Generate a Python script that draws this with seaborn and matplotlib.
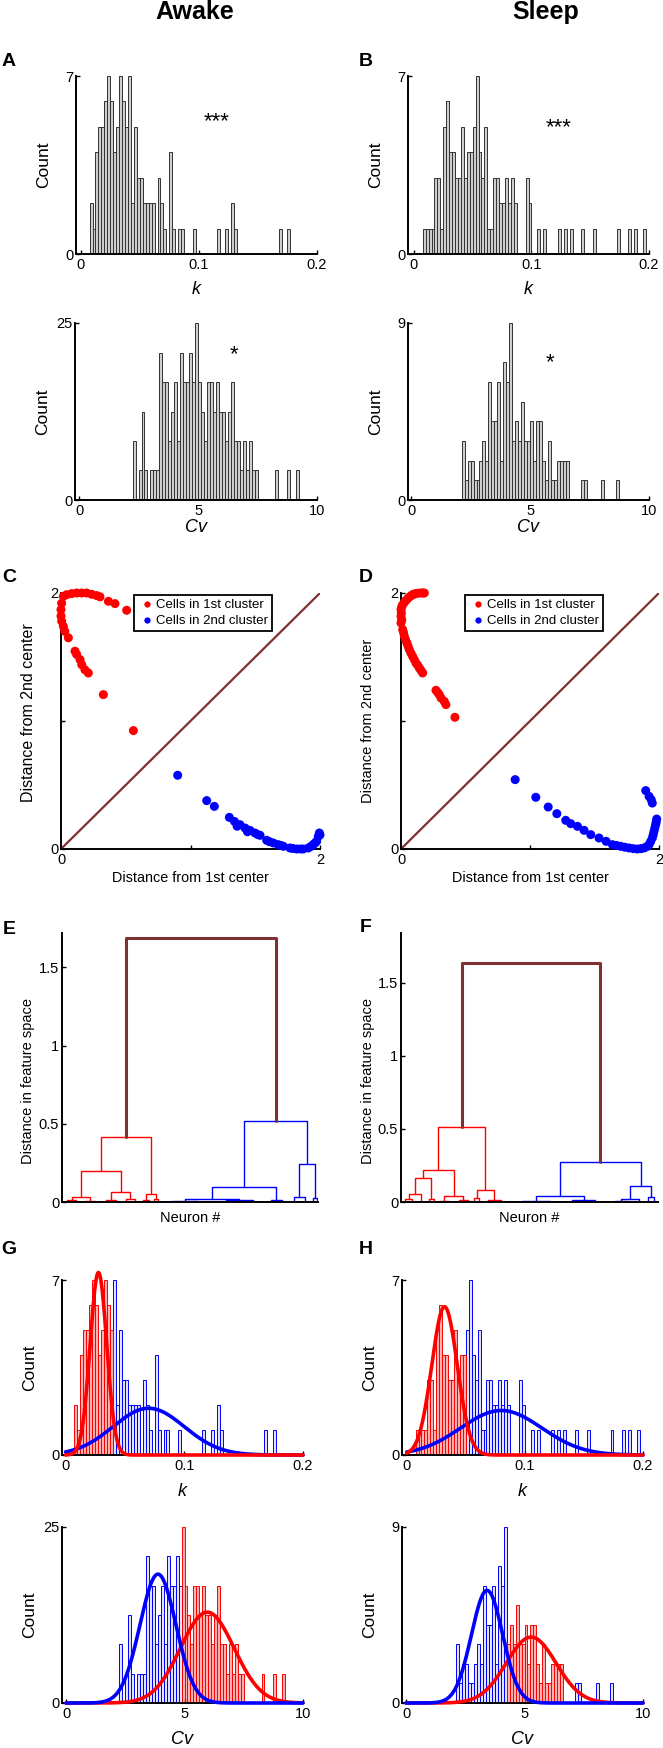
import numpy as np
import pandas as pd
import matplotlib
matplotlib.use("Agg")
import matplotlib.pyplot as plt
import seaborn as sns

sns.set_theme(style="ticks")
plt.rcParams["font.family"] = ["Liberation Sans", "DejaVu Sans"]
plt.rcParams.update({
    "axes.linewidth": 1.4,
    "axes.edgecolor": "black",
    "axes.labelcolor": "black",
    "text.color": "black",
    "xtick.color": "black", "ytick.color": "black",
    "xtick.direction": "in", "ytick.direction": "in",
    "xtick.major.size": 3, "ytick.major.size": 3,
    "xtick.major.width": 1.0, "ytick.major.width": 1.0,
    "xtick.labelsize": 10.5, "ytick.labelsize": 10.5,
    "xtick.major.pad": 3, "ytick.major.pad": 2,
})

RED, BLUE, BROWN = "#ff0000", "#0000ff", "#7f3030"

# ---------------------------------------------------------------------------
# data: histogram counts (80 bins each), split by cluster (1st = red, 2nd = blue)
# ---------------------------------------------------------------------------
K_EDGES = np.linspace(0, 0.2, 81)
CV_EDGES = np.linspace(0, 10, 81)

awake_k_red = [0, 0, 0, 2, 1, 4, 5, 5, 6, 7,
               6, 4, 5, 7, 6, 5, 0, 0, 0, 0] + [0] * 60
awake_k_blue = [0] * 10 + [
    0, 0, 0, 0, 0, 0, 7, 2, 5, 3,
    3, 2, 2, 2, 2, 0, 3, 2, 1, 0,
    4, 1, 0, 1, 1, 0, 0, 0, 1, 0,
    0, 0, 0, 0, 0, 0, 1, 0, 0, 1,
    0, 2, 1, 0, 0, 0, 0, 0, 0, 0,
    0, 0, 0, 0, 0, 0, 0, 1, 0, 0,
    1, 0, 0, 0, 0, 0, 0, 0, 0, 0]

sleep_k_red = [0, 0, 0, 1, 1, 1, 1, 3, 3, 1,
               5, 6, 4, 4, 3, 3, 5, 3, 4, 4] + [0] * 60
sleep_k_blue = [0] * 20 + [
    5, 7, 4, 3, 5, 1, 1, 3, 3, 2,
    2, 3, 2, 3, 2, 0, 0, 0, 3, 2,
    0, 0, 1, 0, 1, 0, 0, 0, 0, 1,
    0, 1, 0, 1, 0, 0, 0, 1, 0, 0,
    0, 1, 0, 0, 0, 0, 0, 0, 0, 1,
    0, 0, 0, 1, 0, 1, 0, 0, 1, 0]

awake_cv_blue = [0] * 10 + [
    0, 0, 0, 0, 0, 0, 0, 0, 8.33, 0,
    4.17, 12.5, 4.17, 0, 4.17, 4.17, 4.17, 20.83, 16.67, 16.67,
    8.33, 12.5, 16.67, 8.33, 20.83, 16.67, 16.67, 20.83, 16.67, 0] + [0] * 40
awake_cv_red = [0] * 30 + [
    0, 0, 0, 0, 0, 0, 0, 0, 0, 25,
    16.67, 12.5, 8.33, 16.67, 16.67, 12.5, 16.67, 12.5, 12.5, 8.33,
    12.5, 16.67, 8.33, 8.33, 4.17, 8.33, 4.17, 8.33, 4.17, 4.17,
    0, 0, 0, 0, 0, 0, 4.17, 0, 0, 0,
    4.17, 0, 0, 4.17, 0, 0, 0, 0, 0, 0]

sleep_cv_blue = [0] * 10 + [
    0, 0, 0, 0, 0, 0, 0, 3, 1, 2,
    2, 1, 1, 2, 3, 2, 6, 4, 4, 6,
    2, 7, 6, 9, 0, 0, 0, 0, 0, 0] + [0] * 10 + [
    0, 0, 0, 0, 0, 0, 0, 1, 1, 0,
    0, 0, 0, 0, 1, 0, 0, 0, 0, 1] + [0] * 10
sleep_cv_red = [0] * 30 + [
    0, 0, 0, 0, 3, 4, 3, 5, 3, 3,
    4, 2, 4, 4, 2, 1, 3, 1, 1, 2,
    2, 2, 2, 0, 0, 0, 0, 0, 0, 0] + [0] * 20

# fitted gaussians: (mean, sd, peak height)
fit_awake_k = {"red": (0.0277, 0.0070, 7.3), "blue": (0.070, 0.030, 1.87)}
fit_sleep_k = {"red": (0.032, 0.0108, 5.93), "blue": (0.080, 0.0344, 1.78)}
fit_awake_cv = {"red": (5.96, 1.13, 12.9), "blue": (3.88, 0.76, 18.3)}
fit_sleep_cv = {"red": (5.28, 1.05, 3.37), "blue": (3.42, 0.66, 5.76)}

# distance of each cell from the two cluster centres
awake_red_d1 = [0.018, 0.044, 0.082, 0.121, 0.160, 0.198, 0.237, 0.275, 0.301, 0.366,
                0.417, 0.507, 0.005, 0.000, 0.000, 0.005, 0.018, 0.030, 0.057, 0.108,
                0.121, 0.147, 0.160, 0.185, 0.211, 0.327, 0.559]
awake_red_d2 = [1.974, 1.987, 1.995, 2.000, 2.000, 2.000, 1.990, 1.980, 1.970, 1.935,
                1.917, 1.865, 1.920, 1.870, 1.820, 1.780, 1.740, 1.700, 1.650, 1.545,
                1.520, 1.480, 1.440, 1.400, 1.375, 1.206, 0.925]
awake_blue_d1 = [0.901, 1.125, 1.184, 1.300, 1.340, 1.382, 1.421, 1.459, 1.498, 1.537,
                 1.588, 1.640, 1.678, 1.717, 1.768, 1.820, 1.871, 1.910, 1.948, 1.974,
                 1.987, 1.995, 1.360, 1.440, 1.520, 1.610, 1.700, 1.790, 1.850, 1.930,
                 1.960, 2.000]
awake_blue_d2 = [0.576, 0.378, 0.333, 0.247, 0.215, 0.190, 0.164, 0.146, 0.125, 0.107,
                 0.068, 0.047, 0.034, 0.021, 0.008, 0.000, 0.000, 0.008, 0.034, 0.060,
                 0.099, 0.125, 0.178, 0.135, 0.112, 0.057, 0.027, 0.004, 0.000, 0.020,
                 0.045, 0.110]

sleep_red_d1 = [0.181, 0.155, 0.116, 0.090, 0.065, 0.039, 0.013, 0.000, 0.000, 0.000,
                0.013, 0.026, 0.046, 0.065, 0.090, 0.116, 0.142, 0.168, 0.271, 0.297,
                0.335, 0.348, 0.418, 0.135, 0.170, 0.005, 0.003, 0.006, 0.020, 0.035,
                0.055, 0.077, 0.103, 0.130, 0.155, 0.052, 0.077, 0.103, 0.026, 0.285,
                0.310]
sleep_red_d2 = [2.000, 2.000, 1.995, 1.987, 1.969, 1.943, 1.909, 1.870, 1.818, 1.766,
                1.714, 1.661, 1.609, 1.557, 1.505, 1.453, 1.414, 1.375, 1.240, 1.206,
                1.154, 1.128, 1.029, 1.999, 2.000, 1.890, 1.845, 1.790, 1.690, 1.635,
                1.583, 1.530, 1.480, 1.435, 1.395, 1.956, 1.978, 1.992, 1.927, 1.222,
                1.180]
sleep_blue_d1 = [0.885, 1.045, 1.141, 1.208, 1.277, 1.316, 1.368, 1.419, 1.471, 1.535,
                 1.639, 1.703, 1.768, 1.832, 1.884, 1.923, 1.948, 1.961, 1.974, 1.982,
                 1.948, 1.923, 1.897, 1.590, 1.670, 1.735, 1.800, 1.860, 1.905, 1.935,
                 1.955, 1.968, 1.978, 1.940]
sleep_blue_d2 = [0.542, 0.404, 0.328, 0.276, 0.224, 0.198, 0.177, 0.146, 0.112, 0.086,
                 0.034, 0.021, 0.008, 0.000, 0.008, 0.034, 0.086, 0.138, 0.190, 0.234,
                 0.359, 0.411, 0.456, 0.060, 0.028, 0.014, 0.003, 0.003, 0.018, 0.058,
                 0.110, 0.165, 0.210, 0.385]

# dendrograms: node = (merge height, left, right); int = group of leaves merged near 0
awake_root = 1.69
awake_tree_red = (0.414,
                  (0.197, (0.032, (0.010, 4, 3), (0.006, 4, 4)),
                          (0.064, (0.015, 4, 4), (0.020, 4, 3))),
                  (0.053, (0.012, 3, 2), (0.018, 2, 1)))
awake_tree_blue = (0.52,
                   (0.096, (0.021, (0.008, 10, 10), (0.012, 12, 9)), (0.015, 5, 4)),
                   (0.24, (0.030, 5, 4), (0.025, 2, 1)))
sleep_root = 1.635
sleep_tree_red = (0.515,
                  (0.219, (0.166, (0.055, (0.018, 3, 3), 4), (0.020, 2, 2)),
                          (0.043, (0.010, 3, 4), (0.012, 4, 3))),
                  (0.082, (0.030, 2, 2), (0.015, 5, 5)))
sleep_tree_blue = (0.276,
                   (0.043, (0.010, 12, 10), (0.012, 8, 10)),
                   (0.110, (0.018, (0.006, 6, 4), 5), (0.034, 2, 3)))

# ---------------------------------------------------------------------------
W, H = 663, 1748
fig = plt.figure(figsize=(W / 100, H / 100), dpi=100)


def px_axes(x0, y0, x1, y1):
    ax = fig.add_axes([x0 / W, 1 - y1 / H, (x1 - x0) / W, (y1 - y0) / H])
    ax.set_facecolor("none")
    sns.despine(ax=ax)
    return ax


def fig_text(x, y, s, **kw):
    fig.text(x / W, 1 - y / H, s, ha="center", va="center", **kw)


def hist(ax, edges, counts, face, edge, lw=0.7):
    frame = pd.DataFrame({"x": (edges[:-1] + edges[1:]) / 2,
                          "w": np.asarray(counts, float)})
    sns.histplot(data=frame, x="x", weights="w", bins=list(edges), ax=ax,
                 element="bars", fill=True, facecolor=face, edgecolor=edge,
                 linewidth=lw)


def gauss(ax, lo, hi, params, color):
    mu, sd, peak = params
    xs = np.linspace(lo, hi, 500)
    ys = peak * np.exp(-0.5 * ((xs - mu) / sd) ** 2)
    sns.lineplot(x=xs, y=ys, ax=ax, color=color, lw=2.6, clip_on=False, zorder=4)


def hist_frame(ax, xlim, ymax, kind, ylab_x, xlab_y):
    ax.set_xlim(*xlim)
    ax.set_ylim(0, ymax)
    if kind == "k":
        ax.set_xticks([0, 0.1, 0.2], ["0", "0.1", "0.2"])
        ax.set_xlabel("k", fontsize=13, style="italic")
    else:
        ax.set_xticks([0, 5, 10], ["0", "5", "10"])
        ax.set_xlabel("Cv", fontsize=13, style="italic")
    ax.set_yticks([0, ymax], ["0", str(ymax)])
    ax.set_ylabel("Count", fontsize=12.5)
    ax.xaxis.label.set_va("center")
    ax.yaxis.label.set_va("center")
    ax.xaxis.set_label_coords(0.5, xlab_y)
    ax.yaxis.set_label_coords(ylab_x, 0.5)


GRAY_FACE, GRAY_EDGE = "#cdcdcd", "#333333"
RED_FACE, BLUE_FACE = (1, 0, 0, 0.3), (0, 0, 1, 0.12)

# ---- A / B : k histograms -------------------------------------------------
for (x0, x1, xmin, red, blue, stars, sx, sy) in [
        (76, 317, -0.004, awake_k_red, awake_k_blue, "***", 0.115, 5.2),
        (408, 649, -0.005, sleep_k_red, sleep_k_blue, "***", 0.123, 4.95)]:
    ax = px_axes(x0, 76, x1, 254)
    hist(ax, K_EDGES, np.add(red, blue), GRAY_FACE, GRAY_EDGE)
    hist_frame(ax, (xmin, 0.2), 7, "k", -0.135, -0.197)
    ax.text(sx, sy, stars, ha="center", va="center", fontsize=16)

# ---- lower A / B : Cv histograms ------------------------------------------
for (x0, x1, xmin, red, blue, ymax, sx, sy) in [
        (75, 317, -0.17, awake_cv_red, awake_cv_blue, 25, 6.5, 20.5),
        (408, 649, -0.13, sleep_cv_red, sleep_cv_blue, 9, 5.85, 7.0)]:
    ax = px_axes(x0, 323, x1, 500)
    hist(ax, CV_EDGES, np.add(red, blue), GRAY_FACE, GRAY_EDGE)
    hist_frame(ax, (xmin, 10), ymax, "cv", -0.135, -0.158)
    ax.text(sx, sy, "*", ha="center", va="center", fontsize=16)

# ---- C / D : distance scatter ---------------------------------------------
LAB1, LAB2 = "Cells in 1st cluster", "Cells in 2nd cluster"
for (x0, x1, leg_x, rd1, rd2, bd1, bd2, ylfs, ylx, yly) in [
        (61, 320, 134, awake_red_d1, awake_red_d2, awake_blue_d1, awake_blue_d2,
         11.5, -0.127, 0.533),
        (401, 659, 465, sleep_red_d1, sleep_red_d2, sleep_blue_d1, sleep_blue_d2,
         10.5, -0.128, 0.5)]:
    ax = px_axes(x0, 593, x1, 849)
    df = pd.DataFrame({
        "d1": list(rd1) + list(bd1),
        "d2": list(rd2) + list(bd2),
        "cluster": [LAB1] * len(rd1) + [LAB2] * len(bd1)})
    ax.set_xlim(0, 2)
    ax.set_ylim(0, 2)
    lims = ax.get_xlim()
    ax.plot(lims, lims, color=BROWN, lw=1.6, zorder=1)
    sns.scatterplot(data=df, x="d1", y="d2", hue="cluster", hue_order=[LAB1, LAB2],
                    palette={LAB1: RED, LAB2: BLUE}, s=42, linewidth=0, ax=ax,
                    clip_on=False, zorder=3)
    sns.move_legend(ax, "upper left", bbox_to_anchor=((leg_x - x0) / (x1 - x0), 0.992),
                    title=None, frameon=True, fancybox=False, framealpha=1,
                    edgecolor="black", fontsize=9.5, borderpad=0.3,
                    handletextpad=0.0, borderaxespad=0, labelspacing=0.3,
                    handlelength=1.4, markerscale=0.7)
    ax.get_legend().get_frame().set_linewidth(1.3)
    ax.set_xlim(0, 2)
    ax.set_ylim(0, 2)
    ax.set_xticks([0, 1, 2], ["0", "", "2"])
    ax.set_yticks([0, 1, 2], ["0", "", "2"])
    ax.set_xlabel("Distance from 1st center", fontsize=10.4)
    ax.set_ylabel("Distance from 2nd center", fontsize=ylfs)
    ax.xaxis.label.set_va("center")
    ax.yaxis.label.set_va("center")
    ax.xaxis.set_label_coords(0.5, -0.113)
    ax.yaxis.set_label_coords(ylx, yly)


# ---- E / F : dendrograms ---------------------------------------------------
def layout(node, start, segs, color):
    if isinstance(node, int):
        xa, xb = 10 * start + 5, 10 * (start + node - 1) + 5
        segs.append(([xa, xb], [0, 0], color, 1.4))
        return (xa + xb) / 2, 0.0, start + node
    h, left, right = node
    xl, hl, start = layout(left, start, segs, color)
    xr, hr, start = layout(right, start, segs, color)
    segs.append(([xl, xl, xr, xr], [hl, h, h, hr], color, 1.0))
    return (xl + xr) / 2, h, start


for (x0, x1, root, tred, tblue, ymax, ylx, yly) in [
        (62, 318, awake_root, awake_tree_red, awake_tree_blue, 1.72, -0.133, 0.45),
        (401, 658, sleep_root, sleep_tree_red, sleep_tree_blue, 1.84, -0.128, 0.45)]:
    ax = px_axes(x0, 933, x1, 1202)
    segs = []
    xr, hr, n = layout(tred, 0, segs, RED)
    xb, hb, n = layout(tblue, n, segs, BLUE)
    for xs, ys, c, lw in segs:
        ax.plot(xs, ys, color=c, lw=lw)
    ax.plot([xr, xr, xb, xb], [hr, root, root, hb], color=BROWN, lw=2.2)
    ax.set_xlim(0, 10 * n)
    ax.set_ylim(0, ymax)
    ax.set_xticks([])
    ax.set_yticks([0, 0.5, 1, 1.5], ["0", "0.5", "1", "1.5"])
    ax.set_xlabel("Neuron #", fontsize=10.5)
    ax.set_ylabel("Distance in feature space", fontsize=10.5)
    ax.xaxis.label.set_va("center")
    ax.yaxis.label.set_va("center")
    ax.xaxis.set_label_coords(0.5, -0.06)
    ax.yaxis.set_label_coords(ylx, yly)

# ---- G / H : k histograms split by cluster with gaussian fits ------------
for (x0, x1, xmin, red, blue, fit) in [
        (62, 303, -0.003, awake_k_red, awake_k_blue, fit_awake_k),
        (402, 643, -0.004, sleep_k_red, sleep_k_blue, fit_sleep_k)]:
    ax = px_axes(x0, 1280, x1, 1455)
    hist(ax, K_EDGES, blue, BLUE_FACE, BLUE, lw=0.7)
    hist(ax, K_EDGES, red, RED_FACE, RED, lw=0.7)
    gauss(ax, 0, 0.2, fit["blue"], BLUE)
    gauss(ax, 0, 0.2, fit["red"], RED)
    hist_frame(ax, (xmin, 0.2), 7, "k", -0.135, -0.21)

for (x0, x1, xmin, red, blue, ymax, fit) in [
        (62, 303, -0.17, awake_cv_red, awake_cv_blue, 25, fit_awake_cv),
        (402, 643, -0.17, sleep_cv_red, sleep_cv_blue, 9, fit_sleep_cv)]:
    ax = px_axes(x0, 1527, x1, 1703)
    hist(ax, CV_EDGES, blue, BLUE_FACE, BLUE, lw=0.7)
    hist(ax, CV_EDGES, red, RED_FACE, RED, lw=0.7)
    gauss(ax, 0, 10, fit["red"], RED)
    gauss(ax, 0, 10, fit["blue"], BLUE)
    hist_frame(ax, (xmin, 10), ymax, "cv", -0.135, -0.21)

# ---- headings and panel letters -------------------------------------------
fig_text(195, 12, "Awake", fontsize=18, fontweight="bold")
fig_text(546, 12, "Sleep", fontsize=18, fontweight="bold")
for letter, x, y in [("A", 9, 61), ("B", 366, 61), ("C", 9, 577), ("D", 366, 577),
                     ("E", 9, 929), ("F", 366, 928), ("G", 9, 1250), ("H", 366, 1250)]:
    fig_text(x, y, letter, fontsize=14, fontweight="bold")

fig.savefig("out.png", dpi=100)
